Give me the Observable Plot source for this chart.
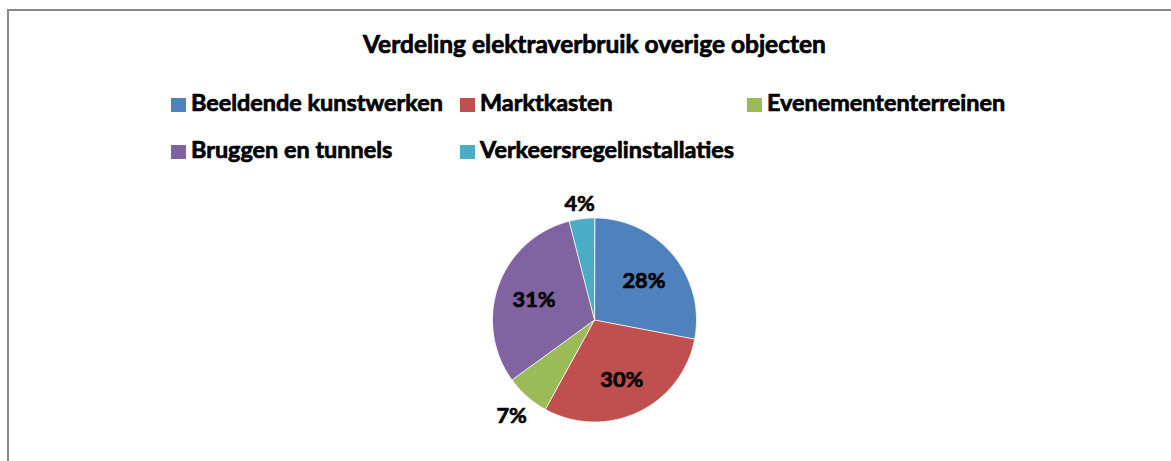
<!DOCTYPE html>
<html><head><meta charset="utf-8">
<script src="https://cdn.jsdelivr.net/npm/d3@7"></script>
<script src="https://cdn.jsdelivr.net/npm/@observablehq/plot@0.6"></script>
<style>
html,body{margin:0;padding:0;background:#fff;}
#wrap{position:relative;width:1171px;height:461px;overflow:hidden;font-family:Lato,"Open Sans",sans-serif;font-weight:700;color:#000;background:#fff;}
#frame{position:absolute;left:7px;top:9px;width:1400px;height:700px;border:2px solid #8a8a8a;box-sizing:border-box;}
.t{position:absolute;white-space:nowrap;-webkit-text-stroke:0.7px #000;}
.sw{position:absolute;width:15px;height:14px;}
#chart{position:absolute;left:0;top:180px;}
</style></head>
<body>
<div id="wrap"><div id="frame"></div><div id="chart"></div></div>
<script>
const title = "Verdeling elektraverbruik overige objecten";
const categories = ["Beeldende kunstwerken","Marktkasten","Evenemententerreinen","Bruggen en tunnels","Verkeersregelinstallaties"];
const shares = [28,30,7,31,4];
const colors = ["#4F81BD","#C0504D","#9BBB59","#8064A2","#4BACC6"];

const FONT = 'Lato';
const WEIGHT = 700;
const ctx = document.createElement('canvas').getContext('2d');
function fit(text, target){ ctx.font = `${WEIGHT} 100px ${FONT}`; return 100*target/ctx.measureText(text).width; }
const wrap = document.getElementById('wrap');
const BASE = 0.887; // baseline offset for line-height 1em

// Title
const tfs = fit(title, 463);
const td = document.createElement('div');
td.className='t'; td.textContent = title;
td.style.fontSize = tfs+'px'; td.style.lineHeight = tfs+'px';
td.style.left='0px'; td.style.width='1189px'; td.style.textAlign='center';
td.style.top = (53.5 - BASE*tfs)+'px';
wrap.appendChild(td);

// Legend
const lfs = fit(categories[0], 252);
const colX = [171, 460, 747];
const rowY = [112, 159];
categories.forEach((c,i)=>{
  const x = colX[i%3], b = rowY[Math.floor(i/3)];
  const s = document.createElement('div'); s.className='sw';
  s.style.background = colors[i]; s.style.left = x+'px'; s.style.top = (b-14)+'px';
  wrap.appendChild(s);
  const d = document.createElement('div'); d.className='t'; d.textContent = c;
  d.style.fontSize = lfs+'px'; d.style.lineHeight = lfs+'px';
  d.style.left = (x+20)+'px'; d.style.top = (b - BASE*lfs)+'px';
  wrap.appendChild(d);
});

// Pie
const W = 1171, H = 281, R = 102, cx = 594, cy = 139.5;
const arcs = d3.pie().sort(null).value(d=>d)(shares);
const pts = [];
arcs.forEach((a,i)=>{
  const name = categories[i];
  pts.push({name, x:0, y:0});
  const n = Math.max(2, Math.ceil((a.endAngle-a.startAngle)/0.01));
  for(let k=0;k<=n;k++){
    const t = a.startAngle + (a.endAngle-a.startAngle)*k/n;
    pts.push({name, x:Math.sin(t), y:Math.cos(t)});
  }
});
const pfs = fit("28%", 43);
ctx.font = `${WEIGHT} ${pfs}px ${FONT}`;
const labels = arcs.map((a,i)=>{
  const m = (a.startAngle+a.endAngle)/2, dx = Math.sin(m), dy = Math.cos(m);
  const text = shares[i] + "%";
  let r;
  if (shares[i] >= 10) r = 0.63;
  else {
    const w = ctx.measureText(text).width, h = pfs*0.75;
    r = (R + 7 + Math.abs(dx)*w/2 + Math.abs(dy)*h/2)/R;
  }
  return {text, x: dx*r, y: dy*r};
});

const plot = Plot.plot({
  width: W, height: H,
  margin: 0,
  x: {domain: [-cx/R, (W-cx)/R], axis: null},
  y: {domain: [-(H-cy)/R, cy/R], axis: null},
  color: {domain: categories, range: colors},
  style: {fontFamily: FONT, background: "transparent", overflow: "visible"},
  marks: [
    Plot.line(pts, {x:"x", y:"y", z:"name", fill:"name", stroke:"white", strokeWidth:0.8, curve:"linear-closed"}),
    Plot.text(labels, {x:"x", y:"y", dy: 2, text:"text", fontSize: pfs, fontWeight:WEIGHT, fill:"black", stroke:"black", strokeWidth:0.7})
  ]
});
document.getElementById('chart').appendChild(plot);
</script>
</body></html>
